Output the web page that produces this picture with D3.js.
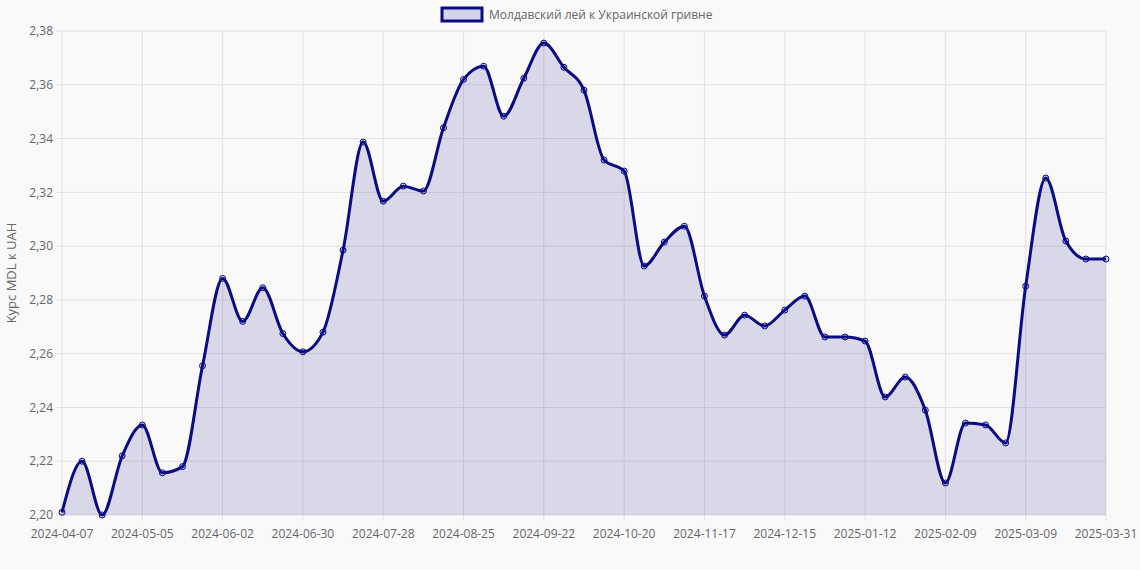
<!DOCTYPE html>
<html>
<head>
<meta charset="utf-8">
<script src="https://cdn.jsdelivr.net/npm/d3@7"></script>
<style>
  body { margin: 0; background: #f9f9f9; }
  svg { font-family: "Open Sans", "Noto Sans", sans-serif; }
</style>
</head>
<body>
<svg id="chart" width="1140" height="570"></svg>
<script>
// weekly categories (last one is 2025-03-31)
const start = new Date(Date.UTC(2024, 3, 7))
const dates = d3.range(52).map(i => d3.utcFormat('%Y-%m-%d')(d3.utcDay.offset(start, i * 7)))
dates.push('2025-03-31')

const rates = [
  2.201, 2.220, 2.200, 2.222, 2.2335, 2.2157, 2.218, 2.2555, 2.288, 2.272,
  2.2845, 2.2675, 2.2607, 2.268, 2.2985, 2.3387, 2.3167, 2.3223, 2.3205, 2.344,
  2.362, 2.3669, 2.3483, 2.3624, 2.3755, 2.3665, 2.358, 2.332, 2.3279, 2.2926,
  2.3015, 2.3074, 2.2814, 2.2669, 2.2743, 2.2703, 2.2762, 2.2814, 2.2662, 2.2662,
  2.2647, 2.2439, 2.2513, 2.239, 2.2119, 2.2342, 2.2335, 2.2268, 2.2851, 2.3253,
  2.3019, 2.2952, 2.2952
]

const yTicks = d3.range(2.20, 2.3801, 0.02)
const xTickIdx = [0, 4, 8, 12, 16, 20, 24, 28, 32, 36, 40, 44, 48, 52]

const margin = { left: 62, right: 34, top: 31, bottom: 55 }
const width = 1140, height = 570
const svg = d3.select('#chart')

const x = d3.scaleLinear().domain([0, dates.length - 1]).range([margin.left, width - margin.right])
const y = d3.scaleLinear().domain([2.20, 2.38]).range([height - margin.bottom, margin.top])

const fmt = v => d3.format('.2f')(v).replace('.', ',')

// grid
svg.append('g').selectAll('line').data(yTicks).join('line')
  .attr('x1', margin.left - 6).attr('x2', width - margin.right)
  .attr('y1', d => y(d)).attr('y2', d => y(d))
  .attr('stroke', '#e1e1e1')
svg.append('g').selectAll('line').data(xTickIdx).join('line')
  .attr('x1', d => x(d)).attr('x2', d => x(d))
  .attr('y1', margin.top).attr('y2', height - margin.bottom + 6)
  .attr('stroke', '#e1e1e1')

// tick labels
svg.append('g').selectAll('text').data(yTicks).join('text')
  .attr('x', margin.left - 9).attr('y', d => y(d)).attr('dy', '0.35em')
  .attr('text-anchor', 'end').attr('font-size', 12).attr('fill', '#666')
  .text(fmt)
svg.append('g').selectAll('text').data(xTickIdx).join('text')
  .attr('x', d => x(d)).attr('y', height - margin.bottom + 23)
  .attr('text-anchor', 'middle').attr('font-size', 12).attr('fill', '#666')
  .text(d => dates[d])

svg.append('text')
  .attr('transform', `translate(16, ${(margin.top + height - margin.bottom) / 2}) rotate(-90)`)
  .attr('text-anchor', 'middle').attr('font-size', 13).attr('fill', '#666')
  .text('Курс MDL к UAH')

// area + line
const area = d3.area().x((d, i) => x(i)).y0(y(2.20)).y1(d => y(d)).curve(d3.curveMonotoneX)
const line = d3.line().x((d, i) => x(i)).y(d => y(d)).curve(d3.curveMonotoneX)
svg.append('path').datum(rates).attr('d', area).attr('fill', 'rgba(0, 0, 128, 0.13)')
svg.append('path').datum(rates).attr('d', line)
  .attr('fill', 'none').attr('stroke', '#0b0b85').attr('stroke-width', 3)
svg.append('g').selectAll('circle').data(rates).join('circle')
  .attr('cx', (d, i) => x(i)).attr('cy', d => y(d)).attr('r', 3)
  .attr('fill', 'rgba(0, 0, 128, 0.15)').attr('stroke', '#0b0b85').attr('stroke-width', 1)

// legend
const legend = svg.append('g')
legend.append('rect').attr('x', 442).attr('y', 8).attr('width', 40).attr('height', 13)
  .attr('fill', 'rgba(0, 0, 128, 0.15)').attr('stroke', '#0b0b85').attr('stroke-width', 3)
legend.append('text').attr('x', 489).attr('y', 15).attr('dy', '0.35em')
  .attr('font-size', 12).attr('fill', '#666').text('Молдавский лей к Украинской гривне')
</script>
</body>
</html>
